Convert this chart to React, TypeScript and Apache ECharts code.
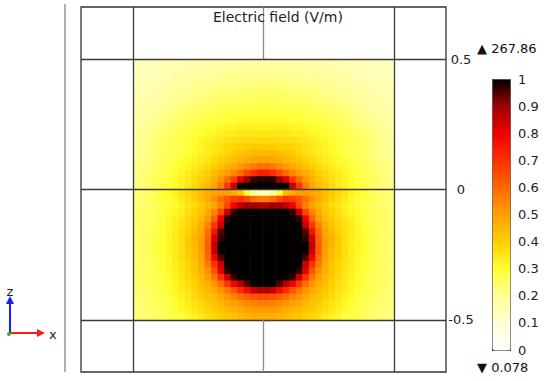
import React, { useEffect, useRef } from "react";
import * as echarts from "echarts";

// Cell centres (x to the right, z upwards), metres
const xCenters = [-0.4875, -0.4625, -0.4375, -0.4125, -0.3875, -0.3625, -0.3375, -0.3125, -0.2875, -0.2625, -0.2375, -0.2125, -0.1875, -0.1625, -0.1375, -0.1125, -0.0875, -0.0625, -0.0375, -0.0125, 0.0125, 0.0375, 0.0625, 0.0875, 0.1125, 0.1375, 0.1625, 0.1875, 0.2125, 0.2375, 0.2625, 0.2875, 0.3125, 0.3375, 0.3625, 0.3875, 0.4125, 0.4375, 0.4625, 0.4875];
const zCenters = [0.4875, 0.4625, 0.4375, 0.4125, 0.3875, 0.3625, 0.3375, 0.3125, 0.2875, 0.2625, 0.2375, 0.2125, 0.1875, 0.1625, 0.1375, 0.1125, 0.0875, 0.0625, 0.0375, 0.0125, -0.0125, -0.0375, -0.0625, -0.0875, -0.1125, -0.1375, -0.1625, -0.1875, -0.2125, -0.2375, -0.2625, -0.2875, -0.3125, -0.3375, -0.3625, -0.3875, -0.4125, -0.4375, -0.4625, -0.4875];

// Normalised electric field, one row per zCenter (top to bottom)
const fieldRows = [
  [0.13,0.14,0.14,0.14,0.15,0.15,0.15,0.16,0.16,0.16,0.17,0.17,0.17,0.18,0.18,0.18,0.18,0.18,0.18,0.18,0.18,0.18,0.18,0.18,0.18,0.18,0.18,0.17,0.17,0.17,0.16,0.16,0.16,0.15,0.15,0.15,0.14,0.14,0.14,0.13],
  [0.14,0.14,0.14,0.15,0.15,0.16,0.16,0.16,0.17,0.17,0.18,0.18,0.18,0.19,0.19,0.19,0.19,0.2,0.2,0.2,0.2,0.2,0.2,0.19,0.19,0.19,0.19,0.18,0.18,0.18,0.17,0.17,0.16,0.16,0.16,0.15,0.15,0.14,0.14,0.14],
  [0.14,0.15,0.15,0.15,0.16,0.16,0.17,0.17,0.18,0.18,0.19,0.19,0.2,0.2,0.2,0.21,0.21,0.21,0.21,0.21,0.21,0.21,0.21,0.21,0.21,0.2,0.2,0.2,0.19,0.19,0.18,0.18,0.17,0.17,0.16,0.16,0.15,0.15,0.15,0.14],
  [0.15,0.15,0.16,0.16,0.17,0.17,0.18,0.18,0.19,0.2,0.2,0.21,0.21,0.21,0.22,0.22,0.22,0.22,0.22,0.22,0.22,0.22,0.22,0.22,0.22,0.22,0.21,0.21,0.21,0.2,0.2,0.19,0.18,0.18,0.17,0.17,0.16,0.16,0.15,0.15],
  [0.15,0.16,0.16,0.17,0.17,0.18,0.19,0.19,0.2,0.21,0.21,0.22,0.22,0.23,0.23,0.23,0.23,0.24,0.24,0.24,0.24,0.24,0.24,0.23,0.23,0.23,0.23,0.22,0.22,0.21,0.21,0.2,0.19,0.19,0.18,0.17,0.17,0.16,0.16,0.15],
  [0.16,0.16,0.17,0.18,0.18,0.19,0.2,0.21,0.21,0.22,0.22,0.23,0.23,0.24,0.24,0.24,0.25,0.25,0.25,0.25,0.25,0.25,0.25,0.25,0.24,0.24,0.24,0.23,0.23,0.22,0.22,0.21,0.21,0.2,0.19,0.18,0.18,0.17,0.16,0.16],
  [0.16,0.17,0.18,0.18,0.19,0.2,0.21,0.22,0.22,0.23,0.24,0.24,0.25,0.25,0.25,0.26,0.26,0.26,0.26,0.26,0.26,0.26,0.26,0.26,0.26,0.25,0.25,0.25,0.24,0.24,0.23,0.22,0.22,0.21,0.2,0.19,0.18,0.18,0.17,0.16],
  [0.17,0.18,0.18,0.19,0.2,0.21,0.22,0.23,0.24,0.24,0.25,0.25,0.26,0.26,0.27,0.27,0.27,0.27,0.28,0.28,0.28,0.28,0.27,0.27,0.27,0.27,0.26,0.26,0.25,0.25,0.24,0.24,0.23,0.22,0.21,0.2,0.19,0.18,0.18,0.17],
  [0.17,0.18,0.19,0.2,0.21,0.22,0.23,0.24,0.25,0.25,0.26,0.27,0.27,0.28,0.28,0.29,0.29,0.29,0.29,0.29,0.29,0.29,0.29,0.29,0.29,0.28,0.28,0.27,0.27,0.26,0.25,0.25,0.24,0.23,0.22,0.21,0.2,0.19,0.18,0.17],
  [0.18,0.19,0.2,0.21,0.22,0.23,0.24,0.25,0.26,0.27,0.27,0.28,0.29,0.29,0.3,0.3,0.31,0.31,0.31,0.31,0.31,0.31,0.31,0.31,0.3,0.3,0.29,0.29,0.28,0.27,0.27,0.26,0.25,0.24,0.23,0.22,0.21,0.2,0.19,0.18],
  [0.19,0.2,0.21,0.22,0.23,0.24,0.25,0.26,0.27,0.28,0.29,0.3,0.3,0.31,0.32,0.32,0.33,0.33,0.33,0.33,0.33,0.33,0.33,0.33,0.32,0.32,0.31,0.3,0.3,0.29,0.28,0.27,0.26,0.25,0.24,0.23,0.22,0.21,0.2,0.19],
  [0.19,0.21,0.22,0.23,0.24,0.25,0.26,0.27,0.28,0.29,0.3,0.31,0.32,0.33,0.34,0.34,0.35,0.35,0.35,0.36,0.36,0.35,0.35,0.35,0.34,0.34,0.33,0.32,0.31,0.3,0.29,0.28,0.27,0.26,0.25,0.24,0.23,0.22,0.21,0.19],
  [0.2,0.21,0.22,0.24,0.25,0.26,0.27,0.28,0.29,0.3,0.32,0.33,0.34,0.35,0.36,0.37,0.37,0.38,0.38,0.38,0.38,0.38,0.38,0.37,0.37,0.36,0.35,0.34,0.33,0.32,0.3,0.29,0.28,0.27,0.26,0.25,0.24,0.22,0.21,0.2],
  [0.2,0.21,0.22,0.24,0.25,0.26,0.27,0.28,0.29,0.31,0.32,0.34,0.35,0.36,0.38,0.39,0.4,0.4,0.41,0.41,0.41,0.41,0.4,0.4,0.39,0.38,0.36,0.35,0.34,0.32,0.31,0.29,0.28,0.27,0.26,0.25,0.24,0.22,0.21,0.2],
  [0.2,0.21,0.23,0.24,0.25,0.26,0.27,0.28,0.3,0.31,0.33,0.34,0.36,0.37,0.39,0.41,0.42,0.44,0.45,0.45,0.45,0.45,0.44,0.42,0.41,0.39,0.37,0.36,0.34,0.33,0.31,0.3,0.28,0.27,0.26,0.25,0.24,0.23,0.21,0.2],
  [0.21,0.22,0.23,0.24,0.26,0.27,0.28,0.3,0.31,0.33,0.34,0.36,0.38,0.4,0.42,0.44,0.46,0.48,0.49,0.5,0.5,0.49,0.48,0.46,0.44,0.42,0.4,0.38,0.36,0.34,0.33,0.31,0.3,0.28,0.27,0.26,0.24,0.23,0.22,0.21],
  [0.22,0.23,0.24,0.25,0.26,0.28,0.29,0.31,0.32,0.34,0.36,0.38,0.4,0.43,0.46,0.48,0.51,0.54,0.57,0.59,0.59,0.57,0.54,0.51,0.48,0.46,0.43,0.4,0.38,0.36,0.34,0.32,0.31,0.29,0.28,0.26,0.25,0.24,0.23,0.22],
  [0.22,0.23,0.24,0.26,0.27,0.28,0.3,0.32,0.34,0.36,0.38,0.4,0.44,0.47,0.5,0.55,0.6,0.66,0.7,0.74,0.74,0.7,0.66,0.6,0.55,0.5,0.47,0.44,0.4,0.38,0.36,0.34,0.32,0.3,0.28,0.27,0.26,0.24,0.23,0.22],
  [0.22,0.23,0.25,0.26,0.27,0.29,0.31,0.33,0.35,0.37,0.4,0.43,0.47,0.52,0.59,0.68,0.81,0.9,0.97,0.98,0.98,0.97,0.9,0.81,0.68,0.59,0.52,0.47,0.43,0.4,0.37,0.35,0.33,0.31,0.29,0.27,0.26,0.25,0.23,0.22],
  [0.22,0.24,0.25,0.26,0.28,0.29,0.31,0.33,0.35,0.38,0.41,0.45,0.49,0.57,0.69,0.85,1,1,1,1,1,1,1,1,0.85,0.69,0.57,0.49,0.45,0.41,0.38,0.35,0.33,0.31,0.29,0.28,0.26,0.25,0.24,0.22],
  [0.23,0.24,0.25,0.27,0.29,0.31,0.33,0.36,0.38,0.41,0.44,0.47,0.49,0.5,0.5,0.48,0.44,0.3,0.18,0.14,0.14,0.18,0.3,0.44,0.48,0.5,0.5,0.49,0.47,0.44,0.41,0.38,0.36,0.33,0.31,0.29,0.27,0.25,0.24,0.23],
  [0.24,0.25,0.26,0.27,0.29,0.3,0.32,0.35,0.37,0.4,0.44,0.48,0.53,0.59,0.64,0.68,0.7,0.66,0.6,0.56,0.56,0.6,0.66,0.7,0.68,0.64,0.59,0.53,0.48,0.44,0.4,0.37,0.35,0.32,0.3,0.29,0.27,0.26,0.25,0.24],
  [0.23,0.24,0.25,0.26,0.28,0.29,0.31,0.33,0.36,0.38,0.41,0.45,0.49,0.56,0.66,0.8,0.86,0.9,0.9,0.88,0.88,0.9,0.9,0.86,0.8,0.66,0.56,0.49,0.45,0.41,0.38,0.36,0.33,0.31,0.29,0.28,0.26,0.25,0.24,0.23],
  [0.24,0.25,0.26,0.27,0.28,0.3,0.32,0.34,0.37,0.4,0.43,0.48,0.55,0.66,0.85,0.97,1,1,1,1,1,1,1,1,0.97,0.85,0.66,0.55,0.48,0.43,0.4,0.37,0.34,0.32,0.3,0.28,0.27,0.26,0.25,0.24],
  [0.24,0.25,0.26,0.27,0.29,0.31,0.33,0.35,0.38,0.41,0.45,0.51,0.61,0.8,0.97,1,1,1,1,1,1,1,1,1,1,0.97,0.8,0.61,0.51,0.45,0.41,0.38,0.35,0.33,0.31,0.29,0.27,0.26,0.25,0.24],
  [0.24,0.25,0.26,0.27,0.29,0.31,0.34,0.36,0.39,0.43,0.47,0.55,0.69,0.85,1,1,1,1,1,1,1,1,1,1,1,1,0.85,0.69,0.55,0.47,0.43,0.39,0.36,0.34,0.31,0.29,0.27,0.26,0.25,0.24],
  [0.24,0.25,0.26,0.28,0.29,0.32,0.34,0.37,0.4,0.44,0.49,0.59,0.76,0.95,1,1,1,1,1,1,1,1,1,1,1,1,0.95,0.76,0.59,0.49,0.44,0.4,0.37,0.34,0.32,0.29,0.28,0.26,0.25,0.24],
  [0.24,0.25,0.26,0.28,0.3,0.32,0.34,0.37,0.41,0.46,0.5,0.61,0.83,0.97,1,1,1,1,1,1,1,1,1,1,1,1,0.97,0.83,0.61,0.5,0.46,0.41,0.37,0.34,0.32,0.3,0.28,0.26,0.25,0.24],
  [0.24,0.25,0.26,0.28,0.3,0.32,0.34,0.37,0.41,0.45,0.51,0.62,0.86,1,1,1,1,1,1,1,1,1,1,1,1,1,1,0.86,0.62,0.51,0.45,0.41,0.37,0.34,0.32,0.3,0.28,0.26,0.25,0.24],
  [0.24,0.25,0.26,0.28,0.3,0.32,0.34,0.37,0.41,0.44,0.5,0.62,0.85,1,1,1,1,1,1,1,1,1,1,1,1,1,1,0.85,0.62,0.5,0.44,0.41,0.37,0.34,0.32,0.3,0.28,0.26,0.25,0.24],
  [0.24,0.25,0.26,0.28,0.29,0.31,0.34,0.37,0.4,0.44,0.49,0.6,0.79,0.95,1,1,1,1,1,1,1,1,1,1,1,1,0.95,0.79,0.6,0.49,0.44,0.4,0.37,0.34,0.31,0.29,0.28,0.26,0.25,0.24],
  [0.24,0.25,0.26,0.27,0.29,0.31,0.34,0.36,0.39,0.43,0.48,0.57,0.7,0.85,1,1,1,1,1,1,1,1,1,1,1,1,0.85,0.7,0.57,0.48,0.43,0.39,0.36,0.34,0.31,0.29,0.27,0.26,0.25,0.24],
  [0.24,0.25,0.26,0.27,0.29,0.31,0.33,0.36,0.39,0.42,0.47,0.53,0.64,0.82,0.97,1,1,1,1,1,1,1,1,1,1,0.97,0.82,0.64,0.53,0.47,0.42,0.39,0.36,0.33,0.31,0.29,0.27,0.26,0.25,0.24],
  [0.24,0.25,0.26,0.27,0.28,0.3,0.33,0.35,0.38,0.41,0.45,0.5,0.58,0.7,0.85,0.97,1,1,1,1,1,1,1,1,0.97,0.85,0.7,0.58,0.5,0.45,0.41,0.38,0.35,0.33,0.3,0.28,0.27,0.26,0.25,0.24],
  [0.24,0.25,0.26,0.27,0.28,0.3,0.32,0.35,0.37,0.4,0.44,0.47,0.52,0.59,0.69,0.79,0.87,0.95,1,1,1,1,0.95,0.87,0.79,0.69,0.59,0.52,0.47,0.44,0.4,0.37,0.35,0.32,0.3,0.28,0.27,0.26,0.25,0.24],
  [0.24,0.25,0.25,0.27,0.28,0.3,0.32,0.34,0.36,0.39,0.42,0.45,0.48,0.53,0.58,0.64,0.71,0.78,0.85,0.88,0.88,0.85,0.78,0.71,0.64,0.58,0.53,0.48,0.45,0.42,0.39,0.36,0.34,0.32,0.3,0.28,0.27,0.25,0.25,0.24],
  [0.23,0.24,0.25,0.26,0.27,0.29,0.31,0.33,0.35,0.38,0.4,0.43,0.45,0.48,0.52,0.55,0.59,0.62,0.64,0.65,0.65,0.64,0.62,0.59,0.55,0.52,0.48,0.45,0.43,0.4,0.38,0.35,0.33,0.31,0.29,0.27,0.26,0.25,0.24,0.23],
  [0.23,0.24,0.25,0.26,0.27,0.28,0.3,0.32,0.34,0.36,0.38,0.41,0.43,0.45,0.48,0.5,0.52,0.54,0.56,0.57,0.57,0.56,0.54,0.52,0.5,0.48,0.45,0.43,0.41,0.38,0.36,0.34,0.32,0.3,0.28,0.27,0.26,0.25,0.24,0.23],
  [0.23,0.24,0.24,0.25,0.26,0.27,0.29,0.31,0.33,0.35,0.37,0.39,0.41,0.43,0.45,0.46,0.48,0.5,0.51,0.51,0.51,0.51,0.5,0.48,0.46,0.45,0.43,0.41,0.39,0.37,0.35,0.33,0.31,0.29,0.27,0.26,0.25,0.24,0.24,0.23],
  [0.23,0.23,0.24,0.25,0.26,0.27,0.28,0.29,0.32,0.33,0.35,0.37,0.39,0.4,0.42,0.43,0.45,0.46,0.47,0.47,0.47,0.47,0.46,0.45,0.43,0.42,0.4,0.39,0.37,0.35,0.33,0.32,0.29,0.28,0.27,0.26,0.25,0.24,0.23,0.23],
];

const frameTicks = [-0.5, 0, 0.5];
const frameLimit = 0.7;
const fieldMaxText = "267.86";
const fieldMinText = "0.078";
const titleText = "Electric field (V/m)";
const thermalColors = ["#ffffff", "#ffffd4", "#ffff9a", "#ffff30", "#ffd000", "#ffa000", "#ff6a00", "#ff3000", "#f00000", "#a00000", "#000000"];

const FONT = "DejaVu Sans";

export default function App() {
  const ref = useRef<HTMLDivElement>(null);

  useEffect(() => {
    const chart = echarts.init(ref.current!, null, { renderer: "svg" });

    const data: number[][] = [];
    fieldRows.forEach((row, i) => {
      row.forEach((v, j) => data.push([xCenters[j], zCenters[i], v]));
    });
    const step = xCenters[1] - xCenters[0];
    const half = step / 2;

    const darkLine = { color: "#3a3a3a", width: 1.3, type: "solid" as const };
    const grayLine = { color: "#8c8c8c", width: 1.3, type: "solid" as const };

    const markLines: any[] = [];
    frameTicks.forEach((v) => {
      if (v === 0) {
        markLines.push([{ coord: [v, frameTicks[2]], lineStyle: grayLine }, { coord: [v, frameLimit] }]);
        markLines.push([{ coord: [v, -frameLimit], lineStyle: grayLine }, { coord: [v, frameTicks[0]] }]);
      } else {
        markLines.push({ xAxis: v, lineStyle: darkLine });
      }
      markLines.push({ yAxis: v, lineStyle: darkLine });
    });

    const option: any = {
      animation: false,
      textStyle: { fontFamily: FONT },
      title: {
        text: titleText,
        left: 213,
        top: 10,
        padding: 0,
        textStyle: { fontFamily: FONT, fontSize: 14, fontWeight: "normal", color: "#222" },
      },
      grid: [
        { left: 81, top: 7, width: 365, height: 365, show: true, borderColor: "#333", borderWidth: 1.3, backgroundColor: "transparent" },
        { left: 492, top: 79, width: 18, height: 271, show: false },
      ],
      xAxis: [
        { type: "value", gridIndex: 0, min: -frameLimit, max: frameLimit, show: false },
        { type: "value", gridIndex: 1, min: 0, max: 1, show: false },
      ],
      yAxis: [
        {
          type: "value",
          gridIndex: 0,
          min: -frameLimit,
          max: frameLimit,
          position: "right",
          axisLine: { show: false },
          splitLine: { show: false },
          axisTick: { show: true, customValues: frameTicks, length: 4, lineStyle: { color: "#333", width: 1.2 } },
          axisLabel: { show: true, customValues: frameTicks, align: "center", margin: 15, fontSize: 13, color: "#222", fontFamily: FONT },
        },
        {
          type: "value",
          gridIndex: 1,
          min: 0,
          max: 1,
          interval: 0.1,
          position: "left",
          axisLine: { show: false },
          splitLine: { show: false },
          axisTick: { show: true, inside: true, length: 3, lineStyle: { color: "#444" } },
          axisLabel: { show: false },
        },
        {
          type: "value",
          gridIndex: 1,
          min: 0,
          max: 1,
          interval: 0.1,
          position: "right",
          axisLine: { show: false },
          splitLine: { show: false },
          axisTick: { show: true, inside: true, length: 3, lineStyle: { color: "#444" } },
          axisLabel: { show: true, margin: 8, fontSize: 13, color: "#222", fontFamily: FONT },
        },
      ],
      visualMap: {
        type: "continuous",
        min: 0,
        max: 1,
        dimension: 2,
        seriesIndex: 0,
        calculable: false,
        hoverLink: false,
        left: 492,
        top: 79,
        itemWidth: 18,
        itemHeight: 271,
        padding: 0,
        borderColor: "#444",
        borderWidth: 1,
        inRange: { color: thermalColors },
      },
      series: [
        {
          type: "custom",
          xAxisIndex: 0,
          yAxisIndex: 0,
          data,
          silent: true,
          renderItem: (params: any, api: any) => {
            const x = api.value(0);
            const z = api.value(1);
            const p0 = api.coord([x - half, z + half]);
            const p1 = api.coord([x + half, z - half]);
            return {
              type: "rect",
              shape: { x: p0[0] - 0.3, y: p0[1] - 0.3, width: p1[0] - p0[0] + 0.6, height: p1[1] - p0[1] + 0.6 },
              style: { fill: api.visual("color"), stroke: null },
            };
          },
          markLine: {
            silent: true,
            symbol: ["none", "none"],
            label: { show: false },
            data: markLines,
          },
        },
      ],
      graphic: [
        { type: "line", shape: { x1: 65, y1: 4, x2: 65, y2: 372 }, style: { stroke: "#b0b0b0", lineWidth: 2 } },
        // axis triad
        { type: "line", shape: { x1: 10, y1: 333, x2: 10, y2: 303 }, style: { stroke: "#1a1aff", lineWidth: 2 } },
        { type: "polygon", shape: { points: [[6, 304], [14, 304], [10, 296]] }, style: { fill: "#1a1aff" } },
        { type: "line", shape: { x1: 10, y1: 333, x2: 38, y2: 333 }, style: { stroke: "#ff1a1a", lineWidth: 2 } },
        { type: "polygon", shape: { points: [[37, 329], [37, 337], [45, 333]] }, style: { fill: "#ff1a1a" } },
        { type: "circle", shape: { cx: 9, cy: 334, r: 2 }, style: { fill: "#22bb22" } },
        { type: "text", x: 10, y: 291, style: { text: "z", font: `13px '${FONT}'`, fill: "#222", align: "center", verticalAlign: "middle" } },
        { type: "text", x: 49, y: 334, style: { text: "x", font: `13px '${FONT}'`, fill: "#222", align: "left", verticalAlign: "middle" } },
        // range markers
        { type: "text", x: 477, y: 48, style: { text: "▲ " + fieldMaxText, font: `13px '${FONT}'`, fill: "#111", align: "left", verticalAlign: "middle" } },
        { type: "text", x: 477, y: 367, style: { text: "▼ " + fieldMinText, font: `13px '${FONT}'`, fill: "#111", align: "left", verticalAlign: "middle" } },
      ],
    };

    chart.setOption(option);
    return () => chart.dispose();
  }, []);

  return (
    <div
      ref={ref}
      style={{ position: "fixed", left: 0, top: 0, width: 550, height: 381, background: "#fff" }}
    />
  );
}
